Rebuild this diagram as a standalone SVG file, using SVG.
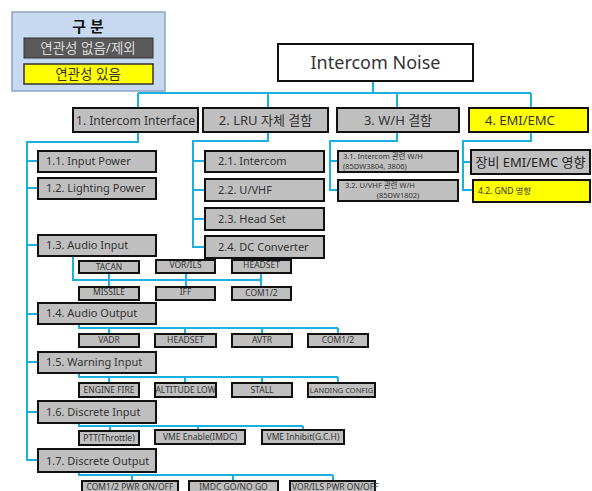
<svg xmlns="http://www.w3.org/2000/svg" width="592" height="491" viewBox="0 0 592 491">
<style>
text{font-family:"Noto Sans","Noto Sans CJK KR",sans-serif;fill:#333}
.bx{fill:#bfbfbf;stroke:#111;stroke-width:2}
.yb{fill:#ffff00;stroke:#111;stroke-width:2}
.c{stroke:#1cb0e0;stroke-width:2;fill:none}
.t1{font-size:13px}
.t2{font-size:11px}
.t3{font-size:8.5px}
.t4{font-size:7.5px}
.m{text-anchor:middle}
</style>
<rect width="592" height="491" fill="#fff"/>
<g id="legend">
<rect x="12" y="12" width="153" height="79" fill="#c6d9f1" stroke="#8ea3bf" stroke-width="1.5"/>
<text x="88" y="32" class="m" style="font-size:15px;font-weight:bold;fill:#111">구 분</text>
<rect x="24" y="38" width="129" height="20" fill="#595959" stroke="#333" stroke-width="1"/>
<text x="88" y="53" class="m" style="font-size:13.5px;fill:#d9d9d9">연관성 없음/제외</text>
<rect x="24" y="64" width="129" height="20" fill="#ffff00" stroke="#333" stroke-width="1.5"/>
<text x="88" y="79" class="m" style="font-size:13.5px">연관성 있음</text>
</g>
<g id="connectors">
<path class="c" d="M373,81V93M138,93H531M138,93V108M268,93V108M397,93V108M531,93V108"/>
<path class="c" d="M138,132V142H27V460H38M27,161H38M27,188H38M27,245H38M27,314H38M27,362H38M27,412H38"/>
<path class="c" d="M73,256V280H261M109,273V286M186,273V286M261,273V286"/>
<path class="c" d="M79,324V328H338M109,328V334M185,328V333M262,328V333M338,328V333"/>
<path class="c" d="M79,373V377H338M109,377V383M185,377V383M262,377V383M338,377V383"/>
<path class="c" d="M79,423V426H303M110,426V431M198,426V430M303,426V430"/>
<path class="c" d="M79,472V475H333M132,475V480M233,475V480M333,475V480"/>
<path class="c" d="M268,132V141H193V247H205M193,161H205M193,190H205M193,219H205"/>
<path class="c" d="M397,132V141H330V190H338M330,161H338"/>
<path class="c" d="M531,132V141H463V190H473M463,162H471"/>
</g>
<g id="root"><rect x="278" y="44" width="195" height="37" fill="#fff" stroke="#111" stroke-width="2"/><text x="375.5" y="69" class="m" style="font-size:18px">Intercom Noise</text></g>
<g id="n1"><rect class="bx" x="73" y="108" width="125" height="24"/><text x="135.5" y="125" class="m t1" textLength="119" lengthAdjust="spacingAndGlyphs">1. Intercom Interface</text></g>
<g id="n2"><rect class="bx" x="203" y="108" width="125" height="24"/><text x="265.5" y="125" class="m t1">2. LRU 자체 결함</text></g>
<g id="n3"><rect class="bx" x="337" y="108" width="122" height="24"/><text x="398" y="125" class="m t1">3. W/H 결함</text></g>
<g id="n4"><rect class="yb" x="469" y="108" width="119" height="24"/><text x="485" y="125" class="t1">4. EMI/EMC</text></g>

<g id="n1_1"><rect class="bx" x="38" y="151" width="118" height="21"/><text x="46" y="165" class="t2">1.1. Input Power</text></g>
<g id="n1_2"><rect class="bx" x="38" y="178" width="118" height="21"/><text x="46" y="192" class="t2">1.2. Lighting Power</text></g>
<g id="n1_3"><rect class="bx" x="38" y="235" width="118" height="21"/><text x="46" y="249" class="t2">1.3. Audio Input</text></g>
<g id="tacan"><rect class="bx" x="79" y="261" width="60" height="12"/><text x="109" y="270" class="m t3">TACAN</text></g>
<g id="vorils"><rect class="bx" x="156" y="260" width="59" height="13"/><text x="185.5" y="268" class="m t3">VOR/ILS</text></g>
<g id="headset1"><rect class="bx" x="232" y="260" width="59" height="13"/><text x="261.5" y="268" class="m t3">HEADSET</text></g>
<g id="missile"><rect class="bx" x="79" y="287" width="60" height="13"/><text x="109" y="295" class="m t3">MISSILE</text></g>
<g id="iff"><rect class="bx" x="156" y="287" width="59" height="13"/><text x="185.5" y="295" class="m t3">IFF</text></g>
<g id="com12a"><rect class="bx" x="232" y="287" width="59" height="13"/><text x="261.5" y="296" class="m t3">COM1/2</text></g>
<g id="n1_4"><rect class="bx" x="38" y="303" width="118" height="21"/><text x="46" y="317" class="t2">1.4. Audio Output</text></g>
<g id="vadr"><rect class="bx" x="79" y="334" width="60" height="13"/><text x="109" y="343" class="m t3">VADR</text></g>
<g id="headset2"><rect class="bx" x="155" y="334" width="61" height="13"/><text x="185.5" y="343" class="m t3">HEADSET</text></g>
<g id="avtr"><rect class="bx" x="232" y="334" width="60" height="13"/><text x="262" y="343" class="m t3">AVTR</text></g>
<g id="com12b"><rect class="bx" x="308" y="334" width="60" height="13"/><text x="338" y="343" class="m t3">COM1/2</text></g>
<g id="n1_5"><rect class="bx" x="38" y="352" width="118" height="21"/><text x="46" y="366" class="t2">1.5. Warning Input</text></g>
<g id="enginefire"><rect class="bx" x="79" y="383" width="60" height="14"/><text x="109" y="393" class="m t3">ENGINE  FIRE</text></g>
<g id="altlow"><rect class="bx" x="155" y="383" width="61" height="14"/><text x="185.5" y="393" class="m t3">ALTITUDE LOW</text></g>
<g id="stall"><rect class="bx" x="232" y="383" width="60" height="14"/><text x="262" y="393" class="m t3">STALL</text></g>
<g id="landing"><rect class="bx" x="308" y="383" width="67" height="14"/><text x="341.5" y="393" class="m t4">LANDING CONFIG</text></g>
<g id="n1_6"><rect class="bx" x="38" y="401" width="118" height="22"/><text x="46" y="416" class="t2">1.6. Discrete Input</text></g>
<g id="ptt"><rect class="bx" x="79" y="431" width="60" height="14"/><text x="109" y="441" class="m t3">PTT(Throttle)</text></g>
<g id="vmeen"><rect class="bx" x="155" y="430" width="90" height="14"/><text x="200" y="440" class="m t3">VME Enable(IMDC)</text></g>
<g id="vmeinh"><rect class="bx" x="262" y="430" width="82" height="14"/><text x="303" y="440" class="m t3">VME Inhibit(G.C.H)</text></g>
<g id="n1_7"><rect class="bx" x="38" y="449" width="118" height="23"/><text x="46" y="465" class="t2">1.7. Discrete Output</text></g>
<g id="compwr"><rect class="bx" x="82" y="481" width="96" height="14"/><text x="130" y="490" class="m t3">COM1/2 PWR ON/OFF</text></g>
<g id="imdc"><rect class="bx" x="189" y="481" width="89" height="14"/><text x="233.5" y="490" class="m t3">IMDC GO/NO GO</text></g>
<g id="vorpwr"><rect class="bx" x="290" y="481" width="85" height="14"/><text x="292" y="490" class="t3">VOR/ILS PWR ON/OFF</text></g>

<g id="n2_1"><rect class="bx" x="205" y="151" width="119" height="21"/><text x="218" y="165" class="t2">2.1. Intercom</text></g>
<g id="n2_2"><rect class="bx" x="205" y="179" width="119" height="22"/><text x="218" y="194" class="t2">2.2. U/VHF</text></g>
<g id="n2_3"><rect class="bx" x="205" y="208" width="119" height="22"/><text x="218" y="223" class="t2">2.3. Head  Set</text></g>
<g id="n2_4"><rect class="bx" x="205" y="236" width="119" height="22"/><text x="218" y="251" class="t2">2.4. DC  Converter</text></g>

<g id="n3_1"><rect class="bx" x="338" y="151" width="120" height="21"/><text x="343" y="159" class="t4">3.1. Intercom 관련 W/H</text><text x="343" y="169" class="t4">(85DW3804, 3806)</text></g>
<g id="n3_2"><rect class="bx" x="338" y="180" width="120" height="21"/><text x="345" y="188" class="t4">3.2. U/VHF 관련 W/H</text><text x="398" y="198" class="m t4">(85DW1802)</text></g>

<g id="n4_1"><rect class="bx" x="471" y="150" width="119" height="24"/><text x="530.5" y="167" class="m" style="font-size:13px;fill:#222">장비 EMI/EMC 영향</text></g>
<g id="n4_2"><rect class="yb" x="473" y="180" width="117" height="22"/><text x="478" y="194" class="t3">4.2. GND 영향</text></g>
</svg>
